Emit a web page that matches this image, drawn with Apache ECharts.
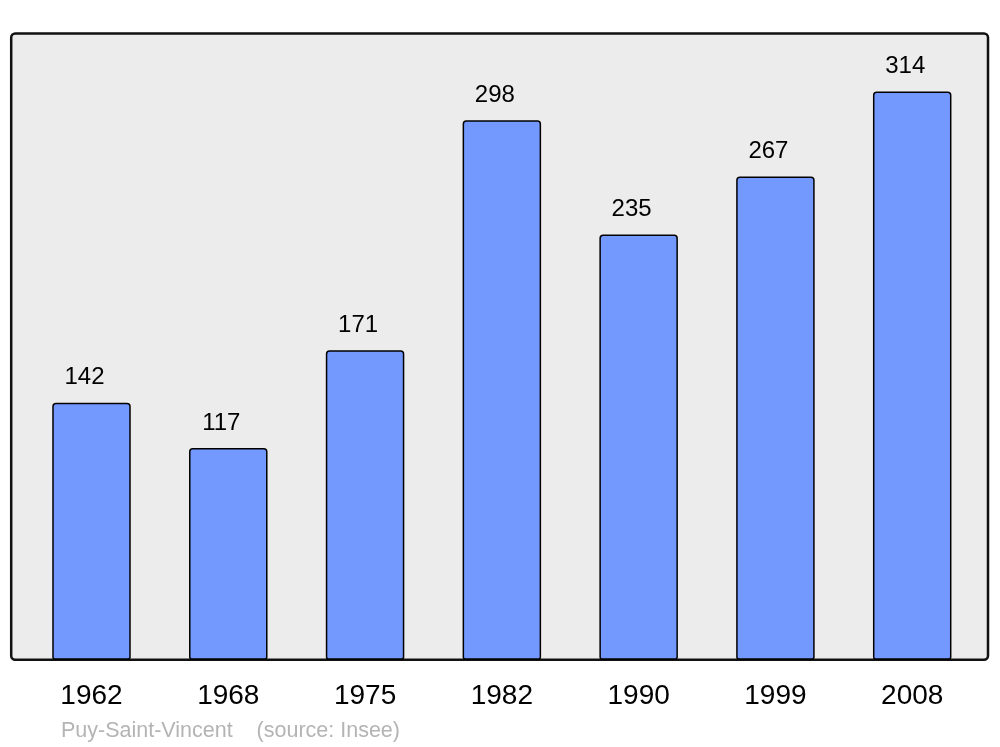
<!DOCTYPE html>
<html>
<head>
<meta charset="utf-8">
<script src="https://cdn.jsdelivr.net/npm/echarts@6/dist/echarts.min.js"></script>
<style>html,body{margin:0;padding:0;background:#fff;}#c{width:1000px;height:747px;}</style>
</head>
<body>
<div id="c"></div>
<script>
var years = ['1962', '1968', '1975', '1982', '1990', '1999', '2008'];
var population = [142, 117, 171, 298, 235, 267, 314];
var footer = 'Puy-Saint-Vincent    (source: Insee)';

var chart = echarts.init(document.getElementById('c'), null, {renderer: 'canvas'});
chart.setOption({
  animation: false,
  backgroundColor: '#ffffff',
  textStyle: {fontFamily: 'Liberation Sans, Arial, sans-serif'},
  title: {
    text: footer,
    left: 61,
    top: 720,
    padding: 0,
    textStyle: {fontSize: 21.5, fontWeight: 'normal', color: '#b4b4b4', fontFamily: 'Liberation Sans, Arial, sans-serif'}
  },
  graphic: [{
    type: 'rect',
    z: -10,
    silent: true,
    shape: {x: 11.2, y: 33.5, width: 976.8, height: 626.2, r: 4},
    style: {fill: '#ececec', stroke: '#111111', lineWidth: 2.5}
  }],
  grid: {left: 23.1, right: 19.4, top: 33.5, bottom: 87.3, containLabel: false},
  xAxis: {
    type: 'category',
    data: years,
    axisLine: {show: false},
    axisTick: {show: false},
    axisLabel: {margin: 23, fontSize: 28, lineHeight: 28, color: '#000', fontFamily: 'Liberation Sans, Arial, sans-serif'}
  },
  yAxis: {
    type: 'value',
    min: 0,
    max: 346,
    show: false,
    splitLine: {show: false}
  },
  series: [{
    type: 'bar',
    data: population,
    barWidth: 78.5,
    itemStyle: {color: '#7399ff', borderColor: '#000', borderWidth: 1.5, borderRadius: [3, 3, 2, 2]},
    label: {
      show: true,
      position: 'top',
      distance: 13,
      offset: [-7, 0],
      fontSize: 24,
      lineHeight: 24,
      color: '#000',
      fontFamily: 'Liberation Sans, Arial, sans-serif'
    }
  }]
});
</script>
</body>
</html>
